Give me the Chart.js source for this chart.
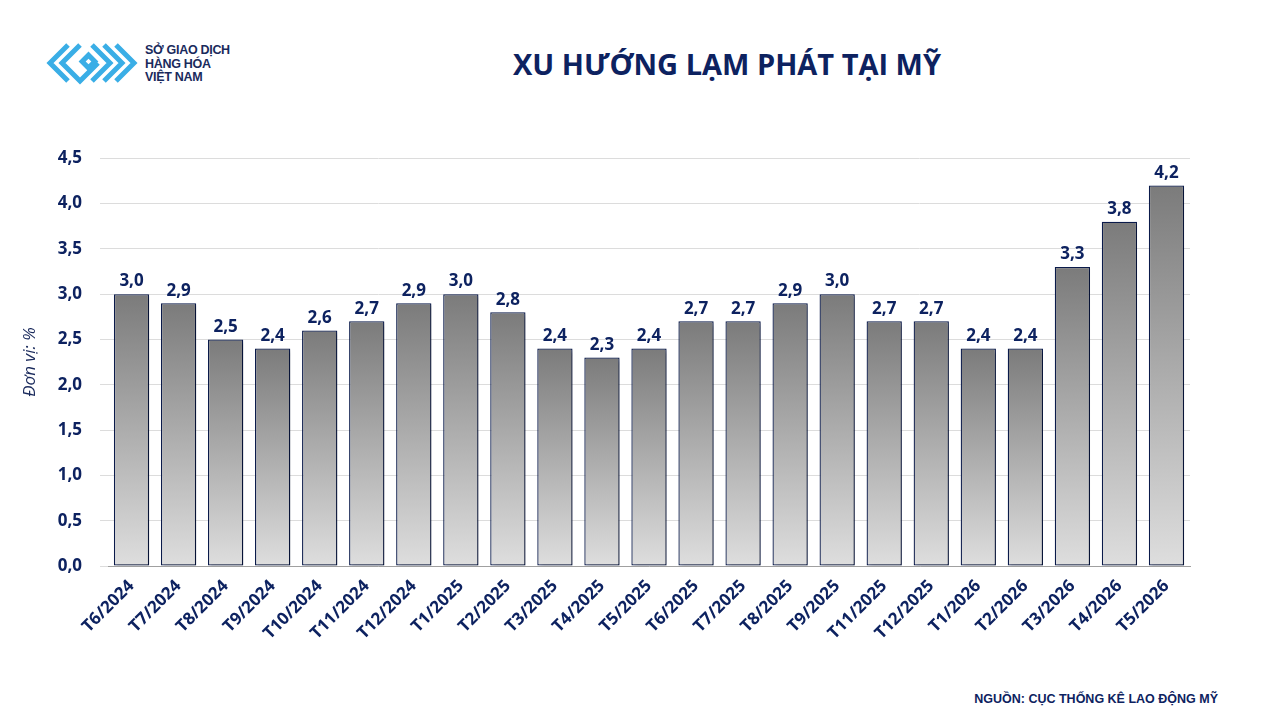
<!DOCTYPE html>
<html>
<head>
<meta charset="utf-8">
<script src="https://cdn.jsdelivr.net/npm/chart.js@4/dist/chart.umd.min.js"></script>
<style>
  body { margin: 0; width: 1280px; height: 720px; background: #fff; font-family: "Open Sans", "Noto Sans", sans-serif; overflow: hidden; }
  #logo { position: absolute; left: 46px; top: 42px; }
  #brand { position: absolute; left: 145px; top: 44px; color: #1a2a5c; font-weight: bold; font-size: 12.5px; line-height: 13.5px; font-family: "Liberation Sans", sans-serif; letter-spacing: -0.3px; }
  #title { position: absolute; left: 0; width: 1454px; top: 44px; text-align: center; color: #0d2260; font-weight: bold; font-size: 29px; }
  #source { position: absolute; right: 62px; top: 692px; color: #0d2260; font-weight: bold; font-size: 12.5px; font-family: "Liberation Sans", sans-serif; }
  #c { position: absolute; left: 0; top: 130px; }
</style>
</head>
<body>
<svg id="logo" width="92" height="46" viewBox="0 0 92 46">
  <g fill="none" stroke="#3aaee6" stroke-width="5" stroke-linejoin="miter">
    <polyline points="22,3 4,21 22,39"/>
    <polyline points="34,3 16,21 34,39 52,21"/>
    <polyline points="46,3 64,21 46,39"/>
    <polyline points="58,3 76,21 58,39"/>
    <polyline points="70,3 88,21 70,39"/>
    <rect x="38" y="15" width="9" height="9" transform="rotate(45 42.5 19.5)"/>
  </g>
</svg>
<div id="brand">SỞ GIAO DỊCH<br>HÀNG HÓA<br>VIỆT NAM</div>
<div id="title">XU HƯỚNG LẠM PHÁT TẠI MỸ</div>
<canvas id="c" width="1210" height="560"></canvas>
<div id="source">NGUỒN: CỤC THỐNG KÊ LAO ĐỘNG MỸ</div>
<script>
const months = ['T6/2024','T7/2024','T8/2024','T9/2024','T10/2024','T11/2024','T12/2024','T1/2025','T2/2025','T3/2025','T4/2025','T5/2025','T6/2025','T7/2025','T8/2025','T9/2025','T11/2025','T12/2025','T1/2026','T2/2026','T3/2026','T4/2026','T5/2026'];
const inflation = [3.0,2.9,2.5,2.4,2.6,2.7,2.9,3.0,2.8,2.4,2.3,2.4,2.7,2.7,2.9,3.0,2.7,2.7,2.4,2.4,3.3,3.8,4.2];
const yTicks = [0,0.5,1,1.5,2,2.5,3,3.5,4,4.5];

const fmt = v => v.toFixed(1).replace('.', ',');
const navy = '#0d2260';

function barFill(ctx) {
  const chart = ctx.chart;
  const y = chart.scales && chart.scales.y;
  if (!y || ctx.dataIndex === undefined) return '#999';
  const top = y.getPixelForValue(ctx.raw);
  const bot = y.getPixelForValue(0);
  if (!isFinite(top) || !isFinite(bot) || top === bot) return '#999';
  const g = chart.ctx.createLinearGradient(0, top, 0, bot);
  g.addColorStop(0, '#7b7b7b');
  g.addColorStop(1, '#dedede');
  return g;
}

const shadow = {
  id: 'shadow',
  beforeDatasetDraw(chart) {
    const c = chart.ctx;
    c.save();
    c.shadowColor = 'rgba(0,0,0,0.3)';
    c.shadowBlur = 3;
    c.shadowOffsetX = 3;
    c.shadowOffsetY = 2;
  },
  afterDatasetDraw(chart) { chart.ctx.restore(); }
};

const labels = {
  id: 'labels',
  afterDatasetsDraw(chart) {
    const c = chart.ctx;
    c.save();
    c.fillStyle = navy;
    c.font = 'bold 17px "Open Sans", sans-serif';
    c.textAlign = 'center';
    c.textBaseline = 'bottom';
    chart.getDatasetMeta(0).data.forEach((bar, i) => {
      c.fillText(fmt(inflation[i]), bar.x, bar.y - 4);
    });
    c.restore();
  }
};

new Chart(document.getElementById('c'), {
  type: 'bar',
  data: {
    labels: months,
    datasets: [{
      data: inflation,
      backgroundColor: barFill,
      borderColor: '#0a1a4a',
      borderWidth: 1.3,
      borderSkipped: false,
      categoryPercentage: 1,
      barPercentage: 0.75
    }]
  },
  options: {
    responsive: false,
    animation: false,
    layout: { padding: { left: 20, right: 20, top: 11, bottom: 0 } },
    plugins: { legend: { display: false }, tooltip: { enabled: false } },
    scales: {
      x: {
        afterFit: s => { s.height = 124; },
        grid: { display: false },
        border: { color: '#a0a0a0' },
        ticks: { color: navy, font: { size: 17, weight: 'bold', family: '"Open Sans", sans-serif' }, maxRotation: 45, minRotation: 45, padding: 2 }
      },
      y: {
        min: 0, max: 4.5,
        afterFit: s => { s.width = 88; },
        afterBuildTicks: s => { s.ticks = yTicks.map(v => ({ value: v })); },
        grid: { color: '#dcdcdc' },
        border: { display: false },
        ticks: { color: navy, font: { size: 17, weight: 'bold', family: '"Open Sans", sans-serif' }, callback: v => fmt(v), padding: 18 },
        title: { display: true, text: 'Đơn vị: %', color: '#1a2a5c', padding: 0, font: { size: 17, style: 'italic', family: '"Open Sans", sans-serif' } }
      }
    }
  },
  plugins: [shadow, labels]
});
</script>
</body>
</html>
